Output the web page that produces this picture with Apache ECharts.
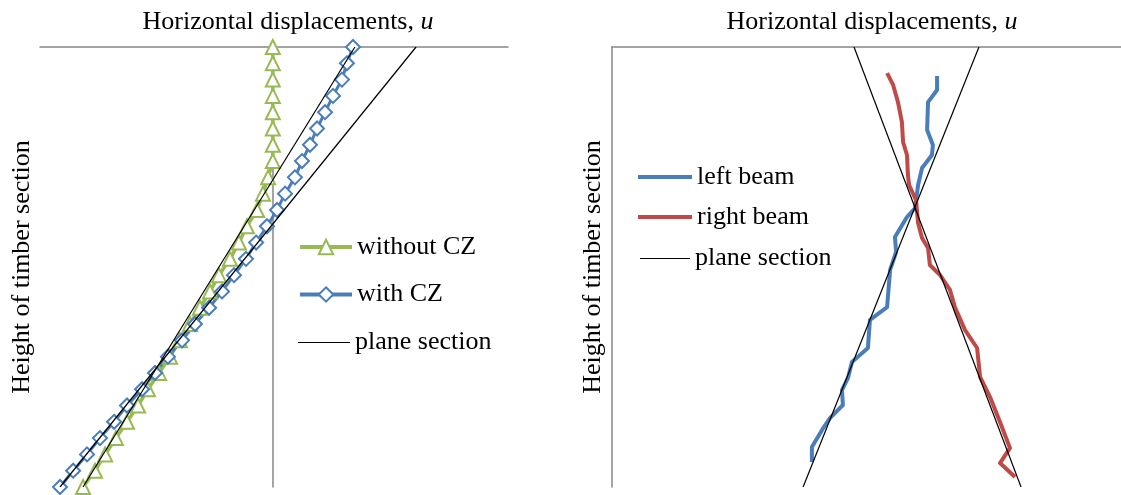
<!DOCTYPE html>
<html><head><meta charset="utf-8">
<script src="https://cdn.jsdelivr.net/npm/echarts@6/dist/echarts.min.js"></script>
<style>html,body{margin:0;padding:0;background:#fff}#c{width:1121px;height:495px}</style>
</head><body><div id="c"></div>
<script>
// ---- Left chart: height levels of timber section (arbitrary units) ----
const heights = [0,10,20,30,40,50,60,70,80,90,100,110,120,130,140,150,160,170,180,190,200,210,220,230,240,250,260,270];
// horizontal displacement u (arbitrary units)
const withoutCZ = [-8.07,-7.56,-7.13,-6.67,-6.20,-5.73,-5.31,-4.84,-4.37,-3.95,-3.52,-3.10,-2.67,-2.29,-1.82,-1.44,-1.10,-0.67,-0.42,-0.20,0,0,0,0,0,0,0,0];
const withCZ = [-9.05,-8.49,-7.90,-7.35,-6.75,-6.20,-5.56,-5.01,-4.46,-3.86,-3.31,-2.71,-2.16,-1.65,-1.14,-0.71,-0.25,0.18,0.52,0.94,1.24,1.58,1.88,2.22,2.56,2.94,3.15,3.41];
const planeA_u = [-9.05, 6.09];
const planeB_u = [-8.07, 3.49];
const planeH = [0, 270];

// ---- Right chart ----
const leftBeamU = [14.05,14.05,13.66,13.62,13.87,13.83,13.40,13.23,13.10,12.75,12.23,12.28,12.02,11.89,11.15,11.06,10.37,10.20,9.94,9.98,9.42,9.08,8.64,8.64];
const leftBeamH = [252.2,243.6,236.2,219.1,209.9,203.7,195.7,185.3,171.2,165.7,153.4,144.2,133.2,110.4,102.5,85.3,76.7,66.9,59.5,50.3,42.3,35.0,24.5,15.3];
const rightBeamU = [11.89,12.15,12.36,12.53,12.58,12.75,12.79,12.84,13.14,13.23,13.40,13.66,13.74,14.18,14.61,14.82,15.26,15.78,15.91,16.34,16.77,17.20,16.77,17.42];
const rightBeamH = [254.0,246.7,236.2,224.0,211.7,203.7,191.4,185.3,176.1,162.0,152.8,146.6,136.2,130.1,120.9,110.4,96.3,85.3,67.5,55.2,39.9,23.9,14.7,6.1];
const planeR1_u = [17.68, 10.46];
const planeR2_u = [8.26, 15.86];

const zip = (xs, ys) => xs.map((x, i) => [x, ys[i]]);

const FONT = 'Liberation Serif, Times New Roman, serif';
const FS = 26;
const axisGrey = '#868686';
const green = '#98B954', blue = '#4A7EBB', red = '#BE4B48';

const chart = echarts.init(document.getElementById('c'), null, {renderer: 'canvas'});
const hiddenAxisBits = {axisTick: {show: false}, axisLabel: {show: false}, splitLine: {show: false}};

const legendText = {fontFamily: FONT, fontSize: FS, color: '#000', lineHeight: 26};

chart.setOption({
  animation: false,
  backgroundColor: '#fff',
  grid: [
    {left: 40, right: 613, top: 47, bottom: 8},
    {left: 612, right: 0, top: 47, bottom: 8}
  ],
  xAxis: [
    Object.assign({type: 'value', gridIndex: 0, position: 'top', min: -9.9, max: 10,
      axisLine: {show: true, onZero: false, lineStyle: {color: axisGrey, width: 1.5}}}, hiddenAxisBits),
    Object.assign({type: 'value', gridIndex: 1, position: 'top', min: 0, max: 22,
      axisLine: {show: true, onZero: false, lineStyle: {color: axisGrey, width: 1.5}}}, hiddenAxisBits)
  ],
  yAxis: [
    Object.assign({type: 'value', gridIndex: 0, min: 0, max: 270,
      axisLine: {show: true, onZero: true, lineStyle: {color: axisGrey, width: 1.5}}}, hiddenAxisBits),
    Object.assign({type: 'value', gridIndex: 1, min: 0, max: 270, position: 'left',
      axisLine: {show: true, onZero: false, lineStyle: {color: axisGrey, width: 1.5}}}, hiddenAxisBits)
  ],
  legend: [
    {data: ['without CZ', 'with CZ'], orient: 'vertical', left: 298, top: 234, padding: 0,
     itemWidth: 52, itemHeight: 18, itemGap: 21.5, textStyle: legendText,
     lineStyle: {width: 4}, selectedMode: false},
    {data: ['plane section'], orient: 'vertical', left: 298, top: 329.5, padding: 0,
     itemWidth: 52, itemHeight: 1, icon: 'rect', itemStyle: {borderWidth: 0}, textStyle: legendText, selectedMode: false},
    {data: ['left beam', 'right beam'], orient: 'vertical', left: 638, top: 164, padding: 0,
     itemWidth: 54, itemHeight: 4, itemGap: 14, icon: 'rect', itemStyle: {borderWidth: 0}, textStyle: legendText, selectedMode: false},
    {data: ['plane section'], orient: 'vertical', left: 640, top: 245.5, padding: 0,
     itemWidth: 50, itemHeight: 1, icon: 'rect', itemStyle: {borderWidth: 0}, textStyle: legendText, selectedMode: false}
  ],
  graphic: [
    {type: 'text', x: 288, y: 22, style: {text: 'Horizontal displacements, {i|u}', rich: {i: {fontStyle: 'italic', fontFamily: FONT, fontSize: FS}},
      fontFamily: FONT, fontSize: FS, fill: '#000', align: 'center', verticalAlign: 'middle'}},
    {type: 'text', x: 872, y: 22, style: {text: 'Horizontal displacements, {i|u}', rich: {i: {fontStyle: 'italic', fontFamily: FONT, fontSize: FS}},
      fontFamily: FONT, fontSize: FS, fill: '#000', align: 'center', verticalAlign: 'middle'}},
    {type: 'text', x: 22, y: 267, rotation: Math.PI / 2, style: {text: 'Height of timber section',
      fontFamily: FONT, fontSize: FS, fill: '#000', align: 'center', verticalAlign: 'middle'}},
    {type: 'text', x: 593, y: 267, rotation: Math.PI / 2, style: {text: 'Height of timber section',
      fontFamily: FONT, fontSize: FS, fill: '#000', align: 'center', verticalAlign: 'middle'}}
  ],
  series: [
    {name: 'without CZ', type: 'line', xAxisIndex: 0, yAxisIndex: 0, data: zip(withoutCZ, heights),
     symbol: 'emptyTriangle', symbolSize: 14, clip: false,
     lineStyle: {color: green, width: 3.5}, itemStyle: {color: green, borderWidth: 2}},
    {name: 'with CZ', type: 'line', xAxisIndex: 0, yAxisIndex: 0, data: zip(withCZ, heights),
     symbol: 'emptyDiamond', symbolSize: 14, clip: false,
     lineStyle: {color: blue, width: 3}, itemStyle: {color: blue, borderWidth: 2}},
    {name: 'plane section', type: 'line', xAxisIndex: 0, yAxisIndex: 0, data: zip(planeA_u, planeH),
     symbol: 'none', lineStyle: {color: '#000', width: 1.2}, itemStyle: {color: '#000'}, z: 5},
    {name: 'plane section', type: 'line', xAxisIndex: 0, yAxisIndex: 0, data: zip(planeB_u, planeH),
     symbol: 'none', lineStyle: {color: '#000', width: 1.2}, itemStyle: {color: '#000'}, z: 5},
    {name: 'left beam', type: 'line', xAxisIndex: 1, yAxisIndex: 1, data: zip(leftBeamU, leftBeamH),
     symbol: 'none', lineStyle: {color: blue, width: 4, join: 'round'}, itemStyle: {color: blue}},
    {name: 'right beam', type: 'line', xAxisIndex: 1, yAxisIndex: 1, data: zip(rightBeamU, rightBeamH),
     symbol: 'none', lineStyle: {color: red, width: 4, join: 'round'}, itemStyle: {color: red}},
    {name: 'plane section', type: 'line', xAxisIndex: 1, yAxisIndex: 1, data: zip(planeR1_u, planeH),
     symbol: 'none', lineStyle: {color: '#000', width: 1.2}, itemStyle: {color: '#000'}, z: 5},
    {name: 'plane section', type: 'line', xAxisIndex: 1, yAxisIndex: 1, data: zip(planeR2_u, planeH),
     symbol: 'none', lineStyle: {color: '#000', width: 1.2}, itemStyle: {color: '#000'}, z: 5}
  ]
});
</script></body></html>
